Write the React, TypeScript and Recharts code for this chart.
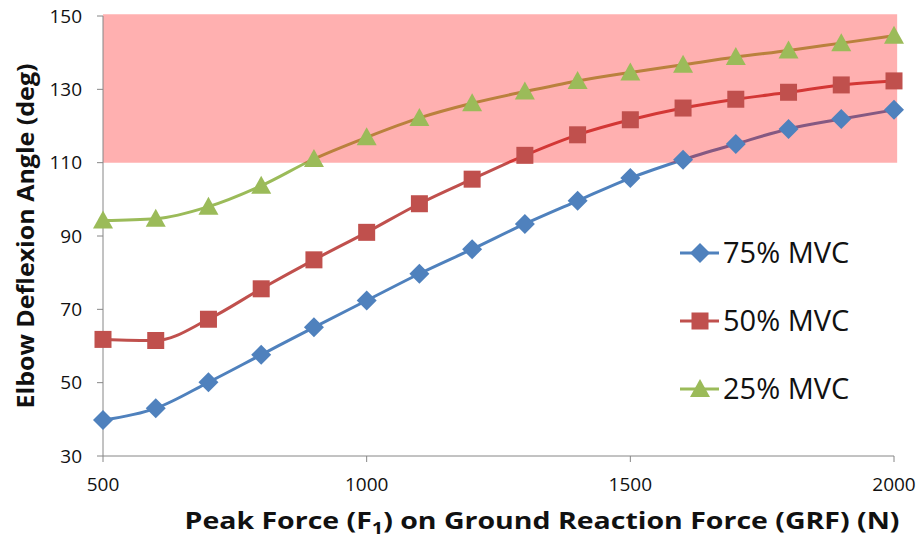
import { LineChart, Line, XAxis, YAxis, ReferenceArea, Label } from "recharts";

// Peak force on the ground reaction force curve (N)
const forces = [500, 600, 700, 800, 900, 1000, 1100, 1200, 1300, 1400, 1500, 1600, 1700, 1800, 1900, 2000];

// Elbow deflexion angle (deg) per muscle activation level
const mvc75 = [39.8, 43.0, 50.1, 57.6, 65.1, 72.4, 79.7, 86.4, 93.3, 99.6, 105.8, 110.8, 115.1, 119.2, 121.9, 124.4];
const mvc50 = [61.8, 61.5, 67.3, 75.6, 83.5, 91.0, 98.8, 105.5, 112.0, 117.6, 121.7, 124.9, 127.3, 129.2, 131.2, 132.3];
const mvc25 = [94.2, 94.7, 98.0, 103.7, 111.0, 116.9, 122.2, 126.2, 129.4, 132.3, 134.6, 136.7, 138.8, 140.6, 142.6, 144.6];

const xTicks = [500, 1000, 1500, 2000];
const yTicks = [30, 50, 70, 90, 110, 130, 150];

// shaded zone: angles above 110 deg (box runs a hair past the axis ends)
const zoneLeft = 500;
const zoneRight = 2006;
const zoneLow = 110;
const zoneHigh = 150.5;

type Shape = "diamond" | "square" | "triangle";

const series: { key: string; name: string; color: string; shape: Shape; values: number[] }[] = [
  { key: "m75", name: "75% MVC", color: "#4f81bd", shape: "diamond", values: mvc75 },
  { key: "m50", name: "50% MVC", color: "#c0504d", shape: "square", values: mvc50 },
  { key: "m25", name: "25% MVC", color: "#9bbb59", shape: "triangle", values: mvc25 },
];

const data = forces.map((f, i) => {
  const row: Record<string, number> = { force: f };
  series.forEach((s) => (row[s.key] = s.values[i]));
  return row;
});

const FONT = "'Open Sans', Lato, sans-serif";

function marker(shape: Shape, cx: number, cy: number, color: string) {
  if (shape === "diamond") {
    return <polygon points={`${cx},${cy - 10} ${cx + 10},${cy} ${cx},${cy + 10} ${cx - 10},${cy}`} fill={color} />;
  }
  if (shape === "square") {
    return <rect x={cx - 8.5} y={cy - 8.5} width={17} height={17} fill={color} />;
  }
  return <polygon points={`${cx},${cy - 10} ${cx + 10},${cy + 8} ${cx - 10},${cy + 8}`} fill={color} />;
}

function LegendBox() {
  return (
    <svg width={220} height={200} style={{ position: "absolute", left: 670, top: 220 }}>
      {series.map((s, i) => {
        const y = 33 + i * 68;
        return (
          <g key={s.key}>
            <line x1={10} x2={49} y1={y} y2={y} stroke={s.color} strokeWidth={3} />
            {marker(s.shape, 30, y, s.color)}
            <text x={53} y={y + 10} fontSize={29} fontFamily={FONT} fill="#111">
              {s.name}
            </text>
          </g>
        );
      })}
    </svg>
  );
}

export default function App() {
  return (
    <div style={{ position: "absolute", left: 0, top: 0, width: 921, height: 540, background: "#fff" }}>
      <LineChart width={921} height={540} data={data} margin={{ top: 16, right: 27, left: 0, bottom: 0 }}>
        <XAxis
          dataKey="force"
          type="number"
          domain={[500, 2000]}
          ticks={xTicks}
          height={84}
          stroke="#868686"
          tickSize={6}
          tickMargin={16}
          tick={{ fill: "#111", fontSize: 19, fontFamily: FONT }}
        >
          <Label
            content={() => (
              <text
                x={542}
                y={529}
                textAnchor="middle"
                fontSize={23}
                fontWeight="bold"
                fontFamily={FONT}
                fill="#111"
                textLength={715}
                lengthAdjust="spacingAndGlyphs"
              >
                Peak Force (F
                <tspan dy={5} fontSize={16}>1</tspan>
                <tspan dy={-5}>) on Ground Reaction Force (GRF) (N)</tspan>
              </text>
            )}
          />
        </XAxis>
        <YAxis
          type="number"
          domain={[30, 150]}
          ticks={yTicks}
          width={103}
          stroke="#868686"
          tickSize={6}
          tickMargin={15}
          tick={{ fill: "#111", fontSize: 19, fontFamily: FONT }}
        >
          <Label
            content={() => (
              <text
                transform="rotate(-90)"
                x={-236}
                y={34}
                textAnchor="middle"
                fontSize={23}
                fontWeight="bold"
                fontFamily={FONT}
                fill="#111"
                textLength={345}
                lengthAdjust="spacingAndGlyphs"
              >
                Elbow Deflexion Angle (deg)
              </text>
            )}
          />
        </YAxis>
        {series.map((s) => (
          <Line
            key={s.key}
            dataKey={s.key}
            name={s.name}
            type="monotone"
            stroke={s.color}
            strokeWidth={3}
            isAnimationActive={false}
            dot={(p: any) => <g key={`${s.key}-${p.index}`}>{marker(s.shape, p.cx, p.cy, s.color)}</g>}
            activeDot={false}
          />
        ))}
        <ReferenceArea
          x1={zoneLeft}
          x2={zoneRight}
          y1={zoneLow}
          y2={zoneHigh}
          fill="#ff0000"
          fillOpacity={0.31}
          stroke="none"
          ifOverflow="visible"
          zIndex={450}
        />
      </LineChart>
      <LegendBox />
    </div>
  );
}
